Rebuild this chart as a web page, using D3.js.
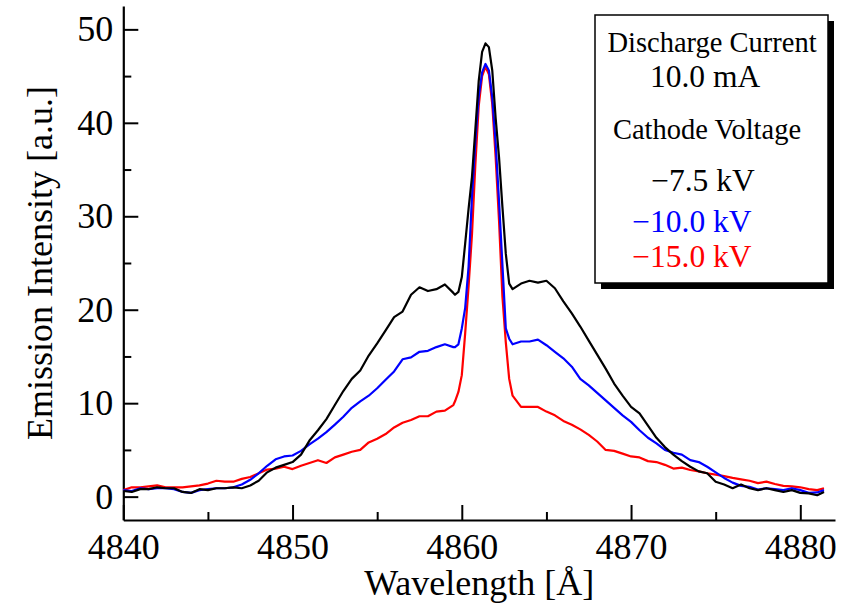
<!DOCTYPE html>
<html>
<head>
<meta charset="utf-8">
<script src="https://cdn.jsdelivr.net/npm/d3@7"></script>
<style>
  body { margin: 0; background: #fff; }
  svg text { font-family: "Liberation Serif", "Times New Roman", serif; }
</style>
</head>
<body>
<div id="chart"></div>
<script>
// wavelength grid [Å]
var wavelength = [
  4840, 4840.5, 4841, 4841.5, 4842, 4842.5, 4843, 4843.5, 4844, 4844.5,
  4845, 4845.5, 4846, 4846.5, 4847, 4847.5, 4848, 4848.5, 4849, 4849.5,
  4850, 4850.5, 4851, 4851.5, 4852, 4852.5, 4853, 4853.5, 4854, 4854.5,
  4855, 4855.5, 4856, 4856.5, 4857, 4857.5, 4858, 4858.5, 4859, 4859.5,
  4859.6, 4859.8, 4860, 4860.2, 4860.4, 4860.6, 4860.8, 4861, 4861.2, 4861.4,
  4861.6, 4861.8, 4862, 4862.2, 4862.4, 4862.6, 4862.8, 4863,
  4863.5, 4864, 4864.5, 4865, 4865.5, 4866, 4866.5, 4867, 4867.5, 4868,
  4868.5, 4869, 4869.5, 4870, 4870.5, 4871, 4871.5, 4872, 4872.5, 4873,
  4873.5, 4874, 4874.5, 4875, 4875.5, 4876, 4876.5, 4877, 4877.5, 4878,
  4878.5, 4879, 4879.5, 4880, 4880.5, 4881, 4881.4
];

// -7.5 kV
var black75 = [
  0.6, 0.5, 0.8, 0.8, 1.0, 0.9, 0.9, 0.5, 0.4, 0.8,
  0.7, 0.9, 0.9, 1.0, 0.9, 1.2, 1.7, 2.6, 3.1, 3.4,
  3.7, 4.5, 6.0, 7.1, 8.3, 9.8, 11.3, 12.6, 13.5, 15.1,
  16.4, 17.8, 19.2, 19.8, 21.6, 22.4, 22.0, 22.2, 22.7, 21.8,
  21.6, 21.9, 23.5, 27.1, 30.8, 34.2, 39.3, 44.5, 47.6, 48.5,
  48.1, 45.6, 40.5, 36.3, 31.0, 26.0, 22.8, 22.2,
  22.8, 23.1, 22.9, 23.1, 22.3, 20.9, 19.6, 18.2, 16.7, 15.2,
  13.7, 12.1, 10.8, 9.6, 8.9, 7.6, 6.3, 5.3, 4.5, 3.8,
  3.2, 2.7, 2.5, 1.6, 1.3, 0.9, 1.3, 0.9, 0.7, 0.9,
  0.7, 0.5, 0.7, 0.4, 0.35, 0.15, 0.5
];

// -10.0 kV
var blue100 = [
  0.7, 0.6, 0.9, 0.8, 0.9, 0.9, 0.8, 0.5, 0.4, 0.7,
  0.8, 0.9, 0.9, 1.0, 1.3, 1.8, 2.5, 3.3, 4.0, 4.3,
  4.4, 4.9, 5.6, 6.2, 6.9, 7.7, 8.55, 9.5, 10.2, 10.8,
  11.6, 12.5, 13.4, 14.7, 14.9, 15.5, 15.6, 16.0, 16.3, 16.0,
  16.0, 16.3, 18.0, 20.2, 24.6, 32.0, 38.0, 42.8, 45.4, 46.3,
  45.6, 42.7, 37.8, 31.6, 24.8, 18.0, 16.9, 16.3,
  16.6, 16.6, 16.8, 16.2, 15.5, 14.8, 13.9, 12.6, 11.9, 11.1,
  10.3, 9.5, 8.7, 8.0, 7.1, 6.3, 5.7, 5.0, 4.7, 4.5,
  3.9, 3.7, 3.2, 2.6, 2.0, 1.5, 1.15, 1.05, 0.75, 0.9,
  0.8, 0.7, 0.9, 0.7, 0.4, 0.45, 0.7
];

// -15.0 kV
var red150 = [
  0.7, 1.0, 1.0, 1.1, 1.2, 1.0, 1.0, 1.0, 1.1, 1.2,
  1.4, 1.7, 1.6, 1.6, 1.9, 2.1, 2.5, 2.9, 3.0, 3.2,
  2.95, 3.3, 3.6, 3.9, 3.6, 4.2, 4.5, 4.8, 5.0, 5.8,
  6.2, 6.7, 7.4, 7.9, 8.2, 8.6, 8.6, 9.1, 9.2, 9.8,
  10.2, 11.2, 13.0, 17.5, 22.5, 28.0, 35.5, 41.8, 45.0, 46.0,
  45.2, 42.0, 36.3, 29.5, 21.4, 16.5, 12.6, 10.8,
  9.6, 9.6, 9.6, 9.1, 8.7, 8.1, 7.7, 7.2, 6.6, 5.9,
  5.0, 4.9, 4.6, 4.3, 4.2, 3.8, 3.7, 3.4, 3.0, 3.1,
  2.85, 2.7, 2.5, 2.35, 2.2, 2.0, 1.85, 1.7, 1.45, 1.6,
  1.35, 1.15, 1.1, 1.0, 0.8, 0.7, 0.9
];

var xTicks = [4840, 4850, 4860, 4870, 4880];
var xMinorTicks = [4845, 4855, 4865, 4875];
var yTicks = [0, 10, 20, 30, 40, 50];
var yMinorTicks = [5, 15, 25, 35, 45];

var legendHead = ["Discharge Current", "10.0 mA", "Cathode Voltage"];
var seriesNames = ["\u22127.5 kV", "\u221210.0 kV", "\u221215.0 kV"];
var seriesColors = ["#000000", "#0000ff", "#ff0000"];

// Set Dimension
var width = 851, height = 606;
var plotLeft = 123.3, plotRight = 835, plotTop = 6, plotBottom = 520;
var serif = "'Liberation Serif', 'Times New Roman', serif";

var svg = d3.select("#chart")
  .append("svg")
  .attr("width", width)
  .attr("height", height);

var x = d3.scaleLinear().domain([4840, 4882.05]).range([plotLeft, plotRight]);
var y = d3.scaleLinear().domain([-2.5, 52.5]).range([plotBottom, plotTop]);

// minor ticks (inside)
svg.append("g")
  .attr("transform", "translate(0," + plotBottom + ")")
  .call(d3.axisBottom(x).tickValues(xMinorTicks).tickSize(-8).tickFormat(""))
  .call(function(g) { g.select(".domain").remove(); })
  .selectAll("line").attr("stroke-width", 2);

svg.append("g")
  .attr("transform", "translate(" + plotLeft + ",0)")
  .call(d3.axisLeft(y).tickValues(yMinorTicks).tickSize(-8).tickFormat(""))
  .call(function(g) { g.select(".domain").remove(); })
  .selectAll("line").attr("stroke-width", 2);

// X axis
var xAxis = svg.append("g")
  .attr("transform", "translate(0," + plotBottom + ")")
  .call(d3.axisBottom(x).tickValues(xTicks).tickSize(-15).tickSizeOuter(0).tickPadding(13).tickFormat(d3.format("d")));
xAxis.select(".domain").attr("stroke-width", 2.2);
xAxis.selectAll("line").attr("stroke-width", 2);
xAxis.selectAll("text").attr("font-size", 36).attr("fill", "#000").style("font-family", serif);

// Y axis
var yAxis = svg.append("g")
  .attr("transform", "translate(" + plotLeft + ",0)")
  .call(d3.axisLeft(y).tickValues(yTicks).tickSize(-15).tickSizeOuter(0).tickPadding(10));
yAxis.select(".domain").attr("stroke-width", 2.2);
yAxis.selectAll("line").attr("stroke-width", 2);
yAxis.selectAll("text").attr("font-size", 36).attr("fill", "#000").style("font-family", serif);

// axis titles
svg.append("text")
  .attr("x", (plotLeft + plotRight) / 2)
  .attr("y", 595)
  .attr("text-anchor", "middle")
  .attr("font-size", 36)
  .text("Wavelength [\u00c5]");

svg.append("text")
  .attr("transform", "translate(52," + ((plotTop + plotBottom) / 2) + ") rotate(-90)")
  .attr("text-anchor", "middle")
  .attr("font-size", 36)
  .text("Emission Intensity [a.u.]");

// lines, red first so blue and black sit on top
var line = d3.line()
  .x(function(d) { return x(d[0]); })
  .y(function(d) { return y(d[1]); });

var series = [black75, blue100, red150];
[2, 1, 0].forEach(function(i) {
  var pts = wavelength.map(function(w, j) { return [w, series[i][j]]; });
  svg.append("path")
    .datum(pts)
    .attr("d", line)
    .attr("fill", "none")
    .attr("stroke", seriesColors[i])
    .attr("stroke-width", 2.2)
    .attr("stroke-linejoin", "round");
});

// legend box with shadow
var box = {x: 595, y: 15, w: 233, h: 268};
svg.append("rect")
  .attr("x", box.x + 6).attr("y", box.y + 6)
  .attr("width", box.w).attr("height", box.h)
  .attr("fill", "#000");
svg.append("rect")
  .attr("x", box.x).attr("y", box.y)
  .attr("width", box.w).attr("height", box.h)
  .attr("fill", "#fff")
  .attr("stroke", "#000")
  .attr("stroke-width", 1.5);

var headPos = [[712, 52, 28.5], [705, 87, 31.5], [707, 139, 28.5]];
legendHead.forEach(function(t, i) {
  svg.append("text")
    .attr("x", headPos[i][0]).attr("y", headPos[i][1])
    .attr("text-anchor", "middle")
    .attr("font-size", headPos[i][2])
    .text(t);
});

var itemPos = [[703, 191], [692, 232], [692, 267]];
seriesNames.forEach(function(t, i) {
  svg.append("text")
    .attr("x", itemPos[i][0]).attr("y", itemPos[i][1])
    .attr("text-anchor", "middle")
    .attr("font-size", 31.5)
    .attr("fill", seriesColors[i])
    .text(t);
});
</script>
</body>
</html>
